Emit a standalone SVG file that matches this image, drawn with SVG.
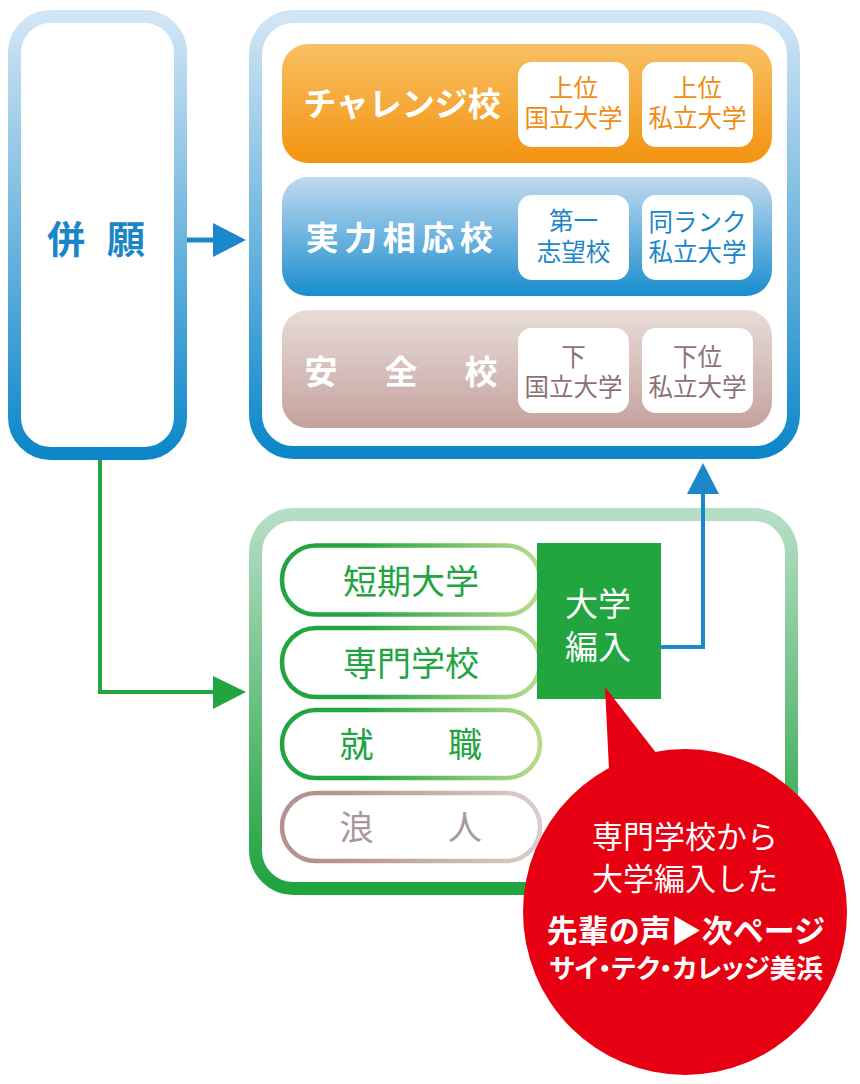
<svg xmlns="http://www.w3.org/2000/svg" width="860" height="1084" viewBox="0 0 860 1084">
<defs>
<linearGradient id="gBlueStroke" x1="0" y1="0" x2="0" y2="1"><stop offset="0" stop-color="#d2e5f4"/><stop offset="1" stop-color="#0d87ca"/></linearGradient>
<linearGradient id="gGreenStroke" x1="0" y1="0" x2="0" y2="1"><stop offset="0" stop-color="#b6ddc6"/><stop offset="1" stop-color="#20a33e"/></linearGradient>
<linearGradient id="gOrange" x1="0" y1="0" x2="0" y2="1"><stop offset="0" stop-color="#f8c063"/><stop offset="1" stop-color="#f39311"/></linearGradient>
<linearGradient id="gBlue" x1="0" y1="0" x2="0" y2="1"><stop offset="0" stop-color="#c0daf0"/><stop offset="1" stop-color="#1a8dcf"/></linearGradient>
<linearGradient id="gBrown" x1="0" y1="0" x2="0" y2="1"><stop offset="0" stop-color="#e8dcd8"/><stop offset="1" stop-color="#c4a29e"/></linearGradient>
<linearGradient id="gPillGreen" x1="0" y1="0" x2="1" y2="0"><stop offset="0.3" stop-color="#22a43f"/><stop offset="1" stop-color="#bada8c"/></linearGradient>
<linearGradient id="gPillBrown" x1="0" y1="0" x2="1" y2="0"><stop offset="0.2" stop-color="#b4928f"/><stop offset="1" stop-color="#dccdca"/></linearGradient>
</defs>
<style>
text{font-family:"Noto Sans CJK JP","Noto Sans CJK SC",sans-serif;text-anchor:middle}
.frame{fill:#fff;stroke-width:13}
.row-title{fill:#fff;font-weight:bold;font-size:33px}
.sub{fill:#fff}
.sub-t{font-size:24.5px}
.pill{fill:#fff;stroke-width:4.5}
.pill-t{font-size:34px;fill:#22a43f}
.bub-t{fill:#fff}
</style>

<g id="heigan">
<rect class="frame" x="14.5" y="16.5" width="166" height="437" rx="36" stroke="url(#gBlueStroke)"/>
<text x="66" y="253" font-size="38" font-weight="bold" fill="#1a86c8">併</text>
<text x="126" y="253" font-size="38" font-weight="bold" fill="#1a86c8">願</text>
</g>

<g id="univ-frame">
<rect class="frame" x="255.5" y="16.5" width="538" height="436" rx="38" stroke="url(#gBlueStroke)"/>
</g>

<g id="challenge">
<rect x="282" y="44" width="490" height="119" rx="26" fill="url(#gOrange)"/>
<text class="row-title" x="402" y="116">チャレンジ校</text>
<rect class="sub" x="518" y="62" width="111" height="85" rx="14"/>
<text class="sub-t" fill="#ee8c14"><tspan x="573.5" y="97">上位</tspan><tspan x="573.5" y="127">国立大学</tspan></text>
<rect class="sub" x="642" y="62" width="111" height="85" rx="14"/>
<text class="sub-t" fill="#ee8c14"><tspan x="697.5" y="97">上位</tspan><tspan x="697.5" y="127">私立大学</tspan></text>
</g>

<g id="jitsuryoku">
<rect x="282" y="177" width="490" height="119" rx="26" fill="url(#gBlue)"/>
<text class="row-title" x="402" y="250" letter-spacing="5.5">実力相応校</text>
<rect class="sub" x="518" y="195" width="111" height="85" rx="14"/>
<text class="sub-t" fill="#1a86c8"><tspan x="573.5" y="230">第一</tspan><tspan x="573.5" y="261">志望校</tspan></text>
<rect class="sub" x="642" y="195" width="111" height="85" rx="14"/>
<text class="sub-t" fill="#1a86c8"><tspan x="697.5" y="231">同ランク</tspan><tspan x="697.5" y="261">私立大学</tspan></text>
</g>

<g id="anzen">
<rect x="282" y="310" width="490" height="118" rx="26" fill="url(#gBrown)"/>
<text class="row-title"><tspan x="321" y="383.5">安</tspan><tspan x="401" y="383.5">全</tspan><tspan x="481" y="383.5">校</tspan></text>
<rect class="sub" x="518" y="328" width="111" height="85" rx="14"/>
<text class="sub-t" fill="#8d7175"><tspan x="573.5" y="366">下</tspan><tspan x="573.5" y="396">国立大学</tspan></text>
<rect class="sub" x="642" y="328" width="111" height="85" rx="14"/>
<text class="sub-t" fill="#8d7175"><tspan x="697.5" y="366">下位</tspan><tspan x="697.5" y="396">私立大学</tspan></text>
</g>

<g id="other-frame">
<rect class="frame" x="255.5" y="514.5" width="536" height="374" rx="38" stroke="url(#gGreenStroke)"/>
</g>

<g id="tandai">
<rect class="pill" x="282" y="545.5" width="258" height="69" rx="34" stroke="url(#gPillGreen)"/>
<text class="pill-t" x="411" y="594">短期大学</text>
</g>
<g id="senmon">
<rect class="pill" x="282" y="628" width="258" height="69" rx="34" stroke="url(#gPillGreen)"/>
<text class="pill-t" x="411" y="676">専門学校</text>
</g>
<g id="shushoku">
<rect class="pill" x="282" y="710" width="258" height="68" rx="34" stroke="url(#gPillGreen)"/>
<text class="pill-t"><tspan x="356.5" y="757">就</tspan><tspan x="465" y="757">職</tspan></text>
</g>
<g id="ronin">
<rect class="pill" x="282" y="793" width="258" height="68" rx="34" stroke="url(#gPillBrown)"/>
<text class="pill-t" style="fill:#a8989a"><tspan x="356.5" y="840">浪</tspan><tspan x="465" y="840">人</tspan></text>
</g>

<g id="hennyu">
<rect x="537" y="543" width="124" height="156" fill="#22a43f"/>
<text font-size="33" fill="#fff"><tspan x="598" y="616">大学</tspan><tspan x="598" y="659">編入</tspan></text>
</g>

<g id="connectors">
<line x1="187" y1="240" x2="216" y2="240" stroke="#1a88c9" stroke-width="5"/>
<polygon points="213,223 246,240 213,257" fill="#1a88c9"/>
<polyline points="100,460 100,692 216,692" fill="none" stroke="#22a43f" stroke-width="4"/>
<polygon points="213,676 246,692 213,709" fill="#22a43f"/>
<polyline points="661,647 703,647 703,490" fill="none" stroke="#1a88c9" stroke-width="4"/>
<polygon points="687,494 703,463 719,494" fill="#1a88c9"/>
</g>

<g id="bubble">
<polygon points="605,687 610,790 680,790 657,754" fill="#e60012"/>
<ellipse cx="685" cy="912" rx="162" ry="163" fill="#e60012"/>
<text class="bub-t" font-size="31" x="685" y="848">専門学校から</text>
<text class="bub-t" font-size="31" x="685" y="890">大学編入した</text>
<text class="bub-t" font-size="31" font-weight="bold" x="686" y="942">先輩の声▶次ページ</text>
<text class="bub-t" font-size="26.5" font-weight="bold" x="686" y="978" style="font-feature-settings:'palt'">サイ・テク・カレッジ美浜</text>
</g>
</svg>
